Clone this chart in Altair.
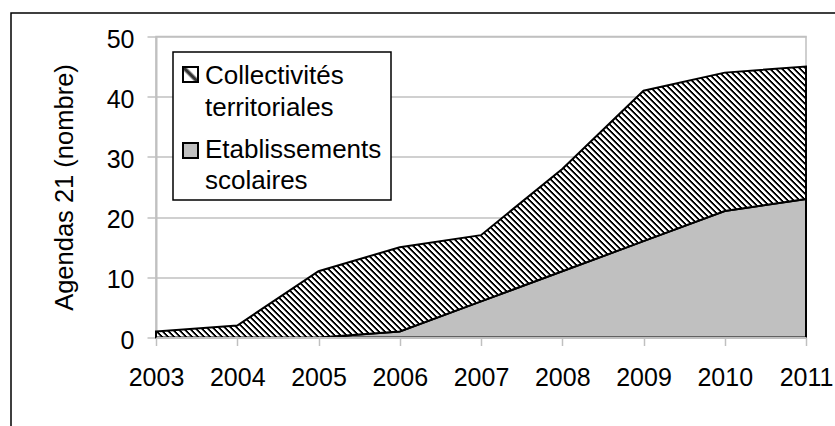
import altair as alt
import pandas as pd

# Agendas 21 par année, empilés : établissements scolaires en bas, collectivités au-dessus
YEARS = [2003, 2004, 2005, 2006, 2007, 2008, 2009, 2010, 2011]
COLLECTIVITES = [1, 2, 11, 14, 11, 17, 25, 23, 22]
SCOLAIRES = [0, 0, 0, 1, 6, 11, 16, 21, 23]
LEGEND_LINES = [["Collectivités", "territoriales"], ["Etablissements", "scolaires"]]
Y_TICKS = [0, 10, 20, 30, 40, 50]
Y_TITLE = "Agendas 21 (nombre)"

W, H = 650, 301
Y_MAX = 50
FONT = "Liberation Sans"
GRID = "#c0c0c0"
GREY_FILL = "#c0c0c0"

df = pd.DataFrame({"annee": YEARS, "scolaires": SCOLAIRES, "collectivites": COLLECTIVITES})


def hatch(box_w, box_h, period=6.0):
    """Linear gradient drawing 45° "\\" stripes over a box of box_w x box_h pixels."""
    r = box_h / box_w
    d = (1 + r) / (1 + r * r)
    n = (box_w + box_h) / period
    pattern = [(0.0, "#000000"), (0.26, "#000000"), (0.42, "#ffffff"), (0.84, "#ffffff")]
    stops = []
    i = 0
    while True:
        done = False
        for f, c in pattern:
            off = (i + f) / n
            if off > 1:
                done = True
                break
            stops.append({"offset": round(off, 6), "color": c})
        if done:
            break
        i += 1
    return {"gradient": "linear", "x1": 0, "y1": 1, "x2": d, "y2": 1 - r * d, "stops": stops}


top_total = max(c + s for c, s in zip(COLLECTIVITES, SCOLAIRES))
area_hatch = hatch(W, H * top_total / Y_MAX)

symbol_hatch = {
    "gradient": "linear", "x1": 0, "y1": 1, "x2": 1, "y2": 0,
    "stops": [
        {"offset": 0.0, "color": "#ffffff"},
        {"offset": 0.36, "color": "#ffffff"},
        {"offset": 0.46, "color": "#333333"},
        {"offset": 0.54, "color": "#333333"},
        {"offset": 0.64, "color": "#ffffff"},
        {"offset": 1.0, "color": "#ffffff"},
    ],
}

x_enc = alt.X(
    "annee:Q",
    scale=alt.Scale(domain=[YEARS[0], YEARS[-1]], nice=False, zero=False),
    axis=alt.Axis(
        values=YEARS, format="d", title=None, grid=False,
        domainColor=GRID, domainWidth=2, tickColor=GRID, tickWidth=1.5, tickSize=8,
        labelFont=FONT, labelFontSize=25, labelColor="#000000",
        labelBaseline="alphabetic", labelPadding=39.5, labelFlush=False,
        labelOverlap=False, zindex=1,
    ),
)

y_scale = alt.Scale(domain=[0, Y_MAX], nice=False, zero=True)
y_axis = alt.Axis(
    values=Y_TICKS, title=Y_TITLE, grid=True, gridColor=GRID, gridWidth=1.5,
    domainColor=GRID, domainWidth=2, tickColor=GRID, tickWidth=1.5, tickSize=9,
    labelFont=FONT, labelFontSize=25, labelColor="#000000", labelPadding=13,
    labelOffset=2.5, labelFlush=False,
    titleFont=FONT, titleFontSize=25.5, titleFontWeight="normal", titleColor="#000000",
    titleAngle=270, titleAlign="center", titleBaseline="middle",
    titleX=-92, titleY=H / 2,
)

base = alt.Chart(df).encode(x=x_enc)

scolaires = base.mark_area(
    fill=GREY_FILL, stroke="#000000", strokeWidth=2, strokeJoin="miter"
).encode(y=alt.Y("scolaires:Q", scale=y_scale, axis=y_axis))

collectivites = base.transform_calculate(
    total="datum.scolaires + datum.collectivites"
).mark_area(
    fill=area_hatch, stroke="#000000", strokeWidth=2, strokeJoin="miter"
).encode(
    y=alt.Y("total:Q", scale=y_scale, axis=y_axis),
    y2="scolaires:Q",
)

one = pd.DataFrame({"k": [0]})

# outer frame of the figure
frame = alt.Chart(one).mark_rect(fill=None, stroke="#000000", strokeWidth=1.5).encode(
    x=alt.value(-145), x2=alt.value(720), y=alt.value(-23.5), y2=alt.value(430)
)

# legend box, symbols and labels
legend_box = alt.Chart(one).mark_rect(fill="#ffffff", stroke="#000000", strokeWidth=1.5).encode(
    x=alt.value(17), x2=alt.value(235), y=alt.value(15.5), y2=alt.value(163.5)
)
sym1 = alt.Chart(one).mark_rect(fill=symbol_hatch, stroke="#000000", strokeWidth=2).encode(
    x=alt.value(27), x2=alt.value(42), y=alt.value(30.5), y2=alt.value(45.5)
)
sym2 = alt.Chart(one).mark_rect(fill=GREY_FILL, stroke="#000000", strokeWidth=2).encode(
    x=alt.value(27), x2=alt.value(42), y=alt.value(106.5), y2=alt.value(121.5)
)
lab1 = alt.Chart(one).mark_text(
    text=LEGEND_LINES[0], font=FONT, fontSize=26, color="#000000", align="left",
    baseline="alphabetic", lineHeight=32,
).encode(x=alt.value(49), y=alt.value(47.5))
lab2 = alt.Chart(one).mark_text(
    text=LEGEND_LINES[1], font=FONT, fontSize=26, color="#000000", align="left",
    baseline="alphabetic", lineHeight=31,
).encode(x=alt.value(49), y=alt.value(121.2))

chart = alt.layer(
    scolaires, collectivites, frame, legend_box, sym1, sym2, lab1, lab2
).properties(
    width=W, height=H,
    autosize=alt.AutoSizeParams(type="none"),
    padding={"left": 156, "top": 36.5, "right": 29, "bottom": 88.5},
    background="#ffffff",
).configure_view(stroke=GRID, strokeWidth=1.5)

chart.save("out.html", embed_options={"renderer": "svg", "actions": False})
